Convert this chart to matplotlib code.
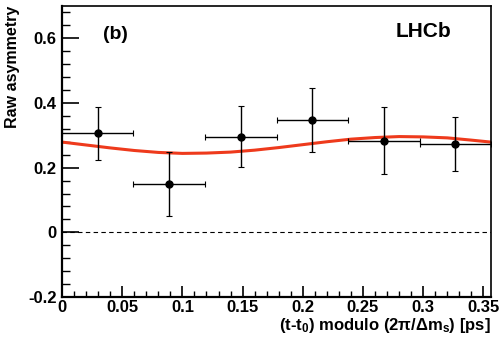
import matplotlib
matplotlib.use("Agg")
import matplotlib.pyplot as plt
from matplotlib.ticker import MultipleLocator

plt.rcParams['font.family'] = ['Liberation Sans', 'DejaVu Sans']
plt.rcParams['font.weight'] = 'bold'
plt.rcParams['mathtext.fontset'] = 'custom'
plt.rcParams['mathtext.rm'] = 'Liberation Sans:bold'
plt.rcParams['mathtext.it'] = 'Liberation Sans:bold'
plt.rcParams['mathtext.bf'] = 'Liberation Sans:bold'

# binned raw asymmetry
bin_x = [0.0297, 0.0891, 0.1485, 0.2079, 0.2673, 0.3267]
bin_halfwidth = [0.0297, 0.0297, 0.0297, 0.0297, 0.0297, 0.0297]
asym = [0.306, 0.148, 0.296, 0.347, 0.283, 0.273]
asym_err = [0.082, 0.099, 0.093, 0.100, 0.103, 0.084]

# fitted curve
fit_x = [0.0, 0.02, 0.04, 0.06, 0.08, 0.10, 0.12, 0.14, 0.16, 0.18,
         0.20, 0.22, 0.24, 0.26, 0.28, 0.30, 0.32, 0.34, 0.356]
fit_y = [0.279, 0.270, 0.261, 0.253, 0.247, 0.244, 0.245, 0.248, 0.254, 0.262,
         0.271, 0.280, 0.288, 0.293, 0.296, 0.295, 0.292, 0.285, 0.279]

x_max = 0.3564

fig = plt.figure(figsize=(4.99, 3.45), dpi=100)
ax = fig.add_axes([0.1242, 0.139, 0.86, 0.844])

ax.axhline(0, color='black', lw=0.8, ls=(0, (4, 3)))
ax.plot(fit_x, fit_y, color='#ee3a1c', lw=2.2, zorder=2)
ax.errorbar(bin_x, asym, xerr=bin_halfwidth, yerr=asym_err, fmt='o',
            color='black', ms=5, elinewidth=1.0, capsize=2, capthick=0.8, zorder=3)

ax.set_xlim(0, x_max)
ax.set_ylim(-0.2, 0.7)
ax.xaxis.set_minor_locator(MultipleLocator(0.01))
ax.yaxis.set_minor_locator(MultipleLocator(0.04))
ax.set_xticks([0, 0.05, 0.1, 0.15, 0.2, 0.25, 0.3, 0.35])
ax.set_xticklabels(['0', '0.05', '0.1', '0.15', '0.2', '0.25', '0.3', '0.35'])
ax.set_yticks([-0.2, 0, 0.2, 0.4, 0.6])
ax.set_yticklabels(['-0.2', '0', '0.2', '0.4', '0.6'])

ax.tick_params(axis='y', which='major', direction='in', length=12, width=1.2,
               labelsize=12, pad=4)
ax.tick_params(axis='y', which='minor', direction='in', length=6, width=1.0)
ax.tick_params(axis='x', which='major', direction='in', length=8, width=1.2,
               labelsize=12, pad=2)
ax.tick_params(axis='x', which='minor', direction='in', length=4, width=1.0)
for s in ax.spines.values():
    s.set_linewidth(1.2)
ax.spines['bottom'].set_linewidth(1.6)
ax.spines['left'].set_linewidth(1.6)

ax.set_ylabel('Raw asymmetry', fontsize=11.5, fontweight='bold', loc='top')
ax.yaxis.set_label_coords(-0.098, 1.0)
ax.set_xlabel(r'(t-t$_{0}$) modulo (2π/Δm$_{s}$) [ps]', fontsize=12,
              fontweight='bold', loc='right', labelpad=1)

ax.text(0.034, 0.612, '(b)', fontsize=14, fontweight='bold', ha='left', va='center')
ax.text(0.2767, 0.622, 'LHCb', fontsize=15, fontweight='bold', ha='left', va='center')

fig.savefig('out.png', dpi=100)
